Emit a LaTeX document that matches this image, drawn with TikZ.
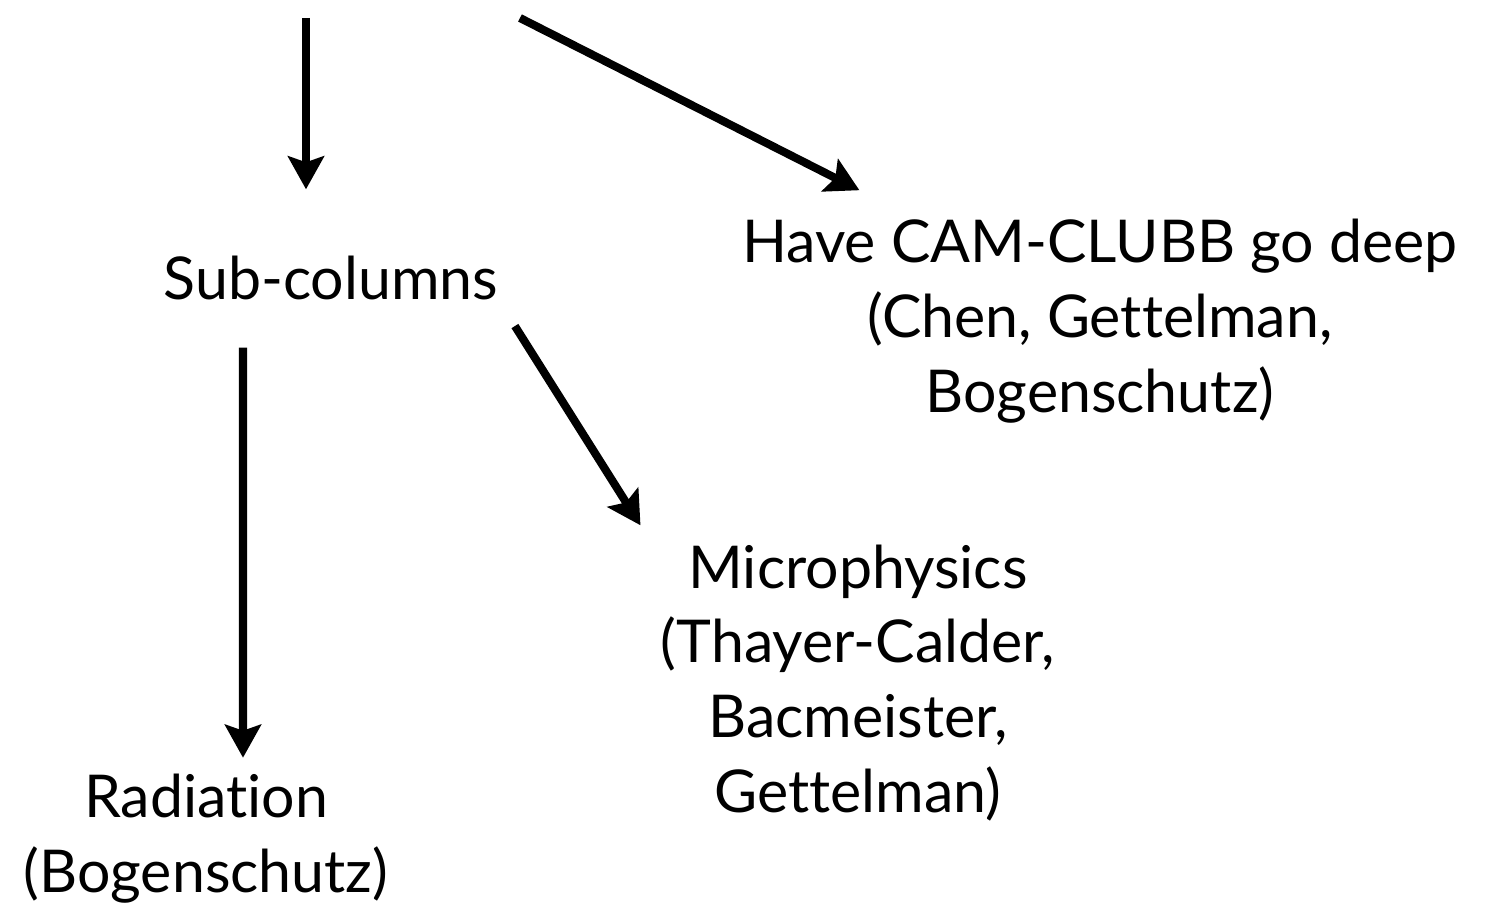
\documentclass[tikz,border=0pt]{standalone}
\usepackage{fontspec}
\setmainfont[Ligatures=NoCommon]{Lato}
\usetikzlibrary{arrows.meta, positioning}
\tikzstyle{topic} = [
	align=center,
	inner sep=0pt,
	font=\fontsize{16.8}{21.3}\selectfont
]
\tikzstyle{arrow} = [line width=2.3pt,-{Stealth[length=0.33cm,width=0.36cm,inset=0.06cm]}]

\begin{document}
\begin{tikzpicture}

		\useasboundingbox (0,0) rectangle (14.91,9.07);

		\coordinate (topleft) at (3.06,8.89);
		\coordinate (topright) at (5.20,8.89);

		\node (subcolumns) [topic] at (3.31,6.29) {Sub-columns};
		\node (camclubb) [topic] at (11.00,5.86) {Have CAM-CLUBB go deep\\(Chen, Gettelman,\\Bogenschutz)};
		\node (microphysics) [topic] at (8.58,2.24) {Microphysics\\(Thayer-Calder,\\Bacmeister,\\Gettelman)};
		\node (radiation) [topic] at (2.06,0.68) {Radiation\\(Bogenschutz)};

		\draw [arrow, shorten >=0.66cm] (topleft) -- (topleft |- subcolumns.north);
		\draw [arrow, shorten >=0.62cm] (topright) -- (camclubb.151);

		\draw [arrow, shorten <=0.47cm, shorten >=0.16cm] ([xshift=-0.88cm]subcolumns.south) -- ([xshift=0.37cm]radiation.north);
		\draw [arrow, shorten <=0.30cm, shorten >=0.22cm] (subcolumns.south east) -- ([xshift=-0.08cm]microphysics.north west);

	\end{tikzpicture}
\end{document}
